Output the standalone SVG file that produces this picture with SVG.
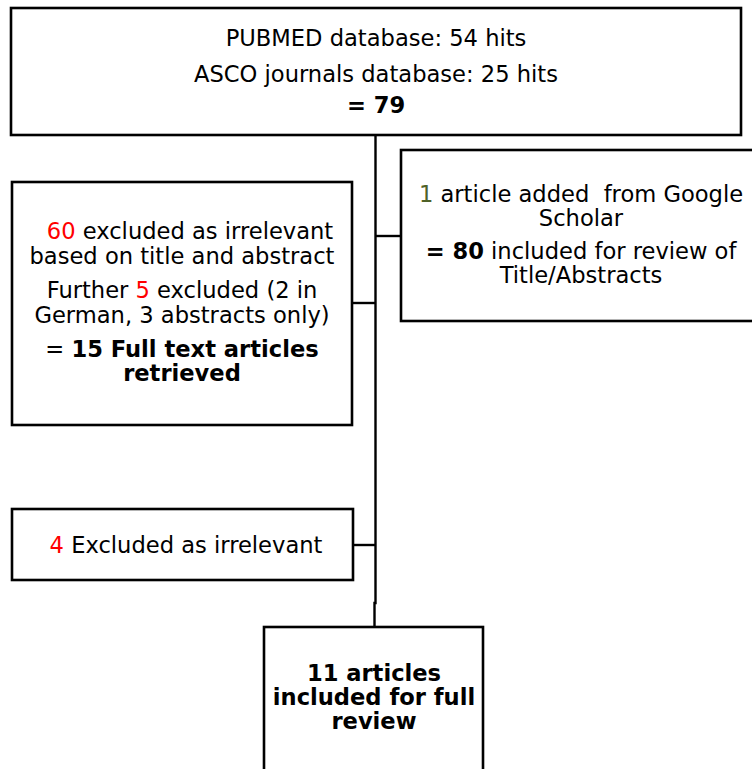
<svg xmlns="http://www.w3.org/2000/svg" width="752" height="769" viewBox="0 0 752 769">
<style>
.box{fill:#fff;stroke:#000;stroke-width:2.6}
.con{fill:none;stroke:#000;stroke-width:2.4}
text{font-family:"DejaVu Sans","Verdana",sans-serif;font-size:22.6px;fill:#000;text-anchor:middle}
.b{font-weight:bold}
.red{fill:#ff0000}
.grn{fill:#4f6228}
</style>
<rect width="752" height="769" fill="#fff"/>
<g id="connectors">
<path class="con" d="M375.5,135 V603 H374.5 V627"/>
<path class="con" d="M375.5,236 H401"/>
<path class="con" d="M352,303 H375.5"/>
<path class="con" d="M353,545 H375.5"/>
</g>
<g id="search">
<rect class="box" x="11" y="8" width="730" height="127"/>
<text x="376" y="46">PUBMED database: 54 hits</text>
<text x="376" y="82">ASCO journals database: 25 hits</text>
<text x="376" y="113" class="b">= 79</text>
</g>
<g id="added">
<rect class="box" x="401" y="150" width="370" height="171"/>
<text x="581" y="202" xml:space="preserve"><tspan class="grn">1</tspan> article added  from Google</text>
<text x="581" y="226">Scholar</text>
<text x="581" y="259"><tspan class="b">= 80</tspan> included for review of</text>
<text x="581" y="283">Title/Abstracts</text>
</g>
<g id="excluded1">
<rect class="box" x="12" y="182" width="340" height="243"/>
<text x="190" y="239"><tspan class="red">60</tspan> excluded as irrelevant</text>
<text x="182" y="264">based on title and abstract</text>
<text x="182" y="298">Further <tspan class="red">5</tspan> excluded (2 in</text>
<text x="182" y="323">German, 3 abstracts only)</text>
<text x="182" y="357">= <tspan class="b">15 Full text articles</tspan></text>
<text x="182" y="381" class="b">retrieved</text>
</g>
<g id="excluded2">
<rect class="box" x="12" y="509" width="341" height="71"/>
<text x="186" y="553"><tspan class="red">4</tspan> Excluded as irrelevant</text>
</g>
<g id="included">
<rect class="box" x="264" y="627" width="219" height="160"/>
<text x="374" y="681" class="b">11 articles</text>
<text x="374" y="705" class="b">included for full</text>
<text x="374" y="729" class="b">review</text>
</g>
</svg>
